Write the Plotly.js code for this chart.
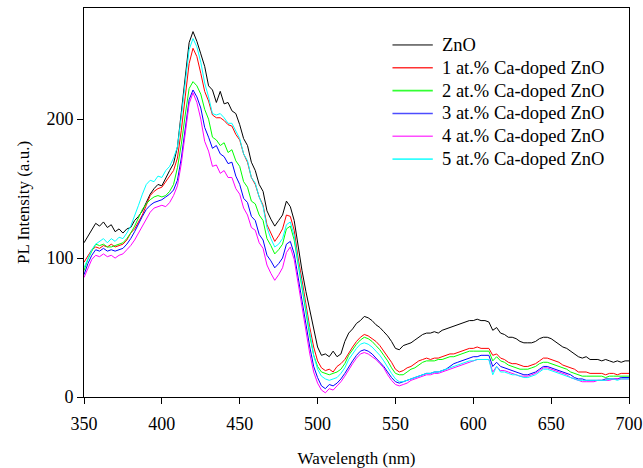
<!DOCTYPE html>
<html>
<head>
<meta charset="utf-8">
<script src="https://cdn.plot.ly/plotly-3.0.1.min.js"></script>
<style>html,body{margin:0;padding:0;background:#fff}#chart{width:643px;height:468px}</style>
</head>
<body>
<div id="chart"></div>
<script>
// Wavelength grid: 350 to 700 nm sampled every 2.5 nm
const wavelengths = [];
for (let i = 0; i <= 140; i++) wavelengths.push(350 + i * 2.5);

const seriesNames = ["ZnO", "1 at.% Ca-doped ZnO", "2 at.% Ca-doped ZnO", "3 at.% Ca-doped ZnO", "4 at.% Ca-doped ZnO", "5 at.% Ca-doped ZnO"];

const znO = [
111,116,121,125,123,126,122,124,119,121,
118,121,122,127,130,134,140,146,150,153,
152,158,163,168,180,205,232,255,263,256,
247,238,224,221,212,220,211,212,206,204,
196,186,181,169,163,153,148,134,128,123,
127,131,141,137,127,108,91,76,63,48,
36,30,31,29,33,29,31,40,46,49,
53,55,58,57,55,52,50,47,44,40,
35,34,37,38,39,41,43,45,46,46,
47,46,48,49,50,51,52,53,54,55,
55,56,55,55,54,48,50,46,45,43,
43,42,40,39,39,39,40,42,43,43,
42,40,38,36,35,33,31,29,28,29,
27,27,27,26,27,26,25,26,25,26,
26];

const ca1 = [
97,102,106,108,107,109,108,110,108,109,
110,113,118,121,126,131,138,145,148,150,
151,155,159,163,172,192,216,240,251,245,
233,220,213,203,201,201,199,196,195,189,
185,175,169,158,153,144,138,124,118,112,
116,121,131,130,120,100,84,66,50,36,
26,21,19,20,18,22,24,27,32,36,
40,43,45,44,42,40,37,33,29,25,
20,18,19,21,22,24,26,27,28,27,
28,28,29,30,31,31,32,33,34,35,
35,36,35,35,35,30,31,28,27,25,
24,24,23,22,22,23,24,26,28,28,
27,26,25,23,22,21,20,18,18,18,
17,17,17,17,16,17,17,16,17,17,
17];

const ca2 = [
91,99,105,110,109,110,108,108,109,110,
111,114,118,123,129,135,139,142,144,145,
144,145,148,153,165,182,203,222,227,224,
218,207,200,187,185,181,183,176,178,170,
166,155,151,141,139,131,127,114,109,103,
106,110,121,123,113,95,78,60,44,30,
22,18,17,16,17,18,20,24,30,34,
38,41,43,42,40,37,34,30,26,21,
17,16,16,18,20,21,23,25,26,26,
26,27,27,28,29,29,30,31,32,33,
33,33,33,33,33,26,29,26,25,23,
22,21,20,20,20,21,22,24,25,25,
24,23,22,21,20,18,17,16,15,15,
15,15,15,15,14,15,15,15,15,15,
15];

const ca3 = [
88,96,102,106,105,107,105,106,105,106,
107,110,114,119,125,130,135,138,140,141,
142,144,146,149,156,172,193,214,221,216,
208,194,187,179,181,175,173,168,169,159,
153,143,140,130,127,117,113,102,98,93,
96,100,110,112,103,86,69,51,36,22,
14,8,6,9,8,10,13,17,22,26,
30,33,34,33,31,28,25,22,18,14,
11,10,11,12,13,14,15,16,17,17,
18,18,19,20,22,24,25,26,27,28,
29,29,30,30,30,22,25,22,21,20,
19,18,17,16,16,17,18,20,22,22,
21,20,19,18,17,16,14,13,13,12,
12,12,12,12,13,13,13,13,14,14,
14];

const ca4 = [
86,93,99,102,101,103,101,102,100,102,
103,106,109,113,118,124,129,133,136,137,
138,137,140,145,152,168,190,211,219,212,
200,184,177,166,167,161,163,158,158,150,
146,136,131,122,120,111,107,95,89,84,
88,93,104,108,99,82,64,46,31,18,
10,5,3,6,5,8,11,15,20,24,
28,31,32,31,29,27,24,21,16,12,
9,8,9,10,12,13,14,15,16,16,
17,17,18,19,20,21,22,23,24,25,
26,27,27,27,27,18,22,19,19,18,
17,16,15,15,15,16,17,19,21,21,
20,19,18,17,16,14,13,12,11,11,
11,11,12,12,12,12,13,13,13,13,
13];

const ca5 = [
93,100,106,110,112,114,111,114,112,115,
114,118,123,130,138,146,153,156,155,159,
158,163,166,172,180,202,228,250,258,252,
241,226,216,204,203,204,201,197,197,191,
186,175,170,158,154,144,137,122,114,108,
110,114,124,126,116,97,80,62,45,30,
20,15,13,12,13,14,17,21,27,31,
35,38,39,38,36,33,30,26,21,17,
13,11,11,12,13,14,15,16,17,17,
18,18,19,20,21,22,23,24,25,26,
26,27,27,27,27,16,22,18,18,17,
16,16,15,14,14,15,16,18,20,20,
19,18,17,16,15,14,13,12,12,12,
12,12,12,12,12,13,13,12,13,13,
13];

const xTicks = [350, 400, 450, 500, 550, 600, 650, 700];
const yTicks = [0, 100, 200];

const allSeries = [znO, ca1, ca2, ca3, ca4, ca5];
const colors = ["#000000", "#ff0000", "#00ff00", "#0000ff", "#ff00ff", "#00ffff"];
const keyColors = ["#000000", "#ff3333", "#33ff33", "#4d4dff", "#ff4dff", "#33ffff"];

const traces = allSeries.map((vals, i) => ({
  x: wavelengths, y: vals, type: "scatter", mode: "lines",
  name: seriesNames[i], showlegend: false, line: {color: colors[i], width: 1}
}));

const font = "Liberation Serif";

// Legend drawn as text + key lines (paper coordinates)
const legendLeft = 0.566, legendKeyEnd = 0.64, legendText = 0.653, legendTop = 0.905, legendStep = 0.0587;
const shapes = [], annotations = [];
seriesNames.forEach((name, i) => {
  const yy = legendTop - i * legendStep;
  shapes.push({type: "line", xref: "paper", yref: "paper", x0: legendLeft, x1: legendKeyEnd, y0: yy, y1: yy,
               line: {color: keyColors[i], width: i === 0 ? 1 : 1.6}});
  annotations.push({xref: "paper", yref: "paper", x: legendText, y: yy, xanchor: "left", yanchor: "middle",
                    text: name, showarrow: false, font: {family: font, size: 18.5, color: "#000"}});
});

const layout = {
  width: 643, height: 468,
  margin: {l: 84, r: 14, t: 8, b: 71},
  paper_bgcolor: "#fff", plot_bgcolor: "#fff",
  font: {family: font, size: 18, color: "#000"},
  showlegend: false,
  shapes: shapes, annotations: annotations,
  xaxis: {range: [350, 700], tickvals: xTicks, ticktext: xTicks.map(String),
          showgrid: false, zeroline: false, showline: true, linecolor: "#000", linewidth: 1,
          mirror: true, ticks: "outside", ticklen: 6, tickcolor: "#000", ticklabelstandoff: 4,
          tickfont: {family: font, size: 18},
          title: {text: "Wavelength (nm)", font: {family: font, size: 17}, standoff: 19}},
  yaxis: {range: [0, 280], tickvals: yTicks, ticktext: yTicks.map(String),
          showgrid: false, zeroline: false, showline: true, linecolor: "#000", linewidth: 1,
          mirror: true, ticks: "outside", ticklen: 6, tickcolor: "#000",
          tickfont: {family: font, size: 18},
          title: {text: "PL Intensity (a.u.)", font: {family: font, size: 17}, standoff: 12}}
};

Plotly.newPlot("chart", traces, layout, {displayModeBar: false, staticPlot: true});
</script>
</body>
</html>
